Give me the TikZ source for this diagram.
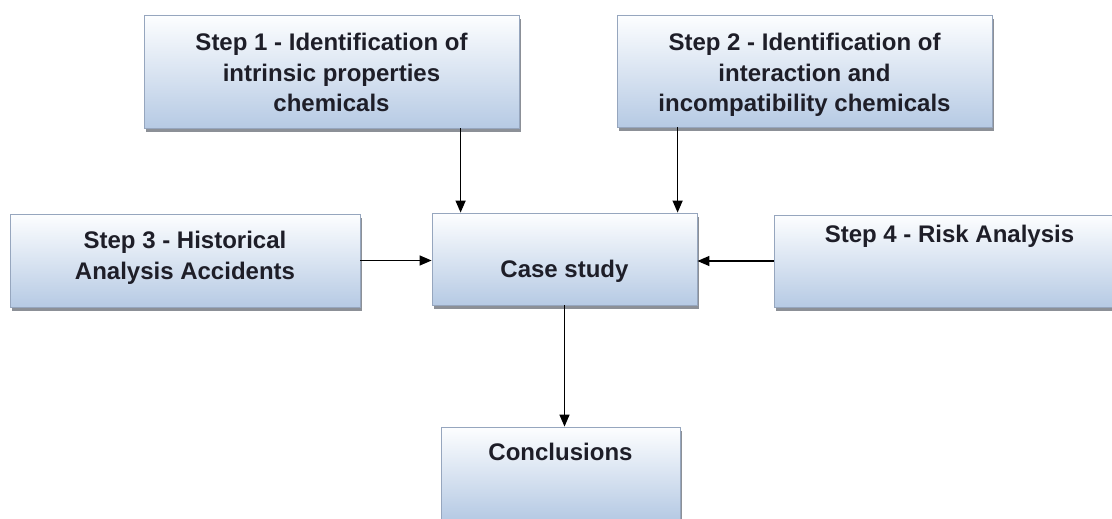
\documentclass[tikz,border=0pt]{standalone}
\usepackage{fontspec}
\setmainfont{Liberation Sans}
\usetikzlibrary{shadows,arrows.meta}
\definecolor{boxtop}{RGB}{253,254,255}
\definecolor{boxmid}{RGB}{226,234,244}
\definecolor{boxbot}{RGB}{182,202,228}
\definecolor{boxline}{RGB}{150,166,190}
\definecolor{shadowgray}{RGB}{128,132,140}
\definecolor{txt}{RGB}{30,30,40}
\newcommand{\boxtxt}[4]{\parbox[c][#2pt][t]{#1pt}{\centering\rule{0pt}{#3pt}#4}}
\tikzset{
  stepbox/.style={draw=boxline, line width=0.8pt, inner sep=0pt, text=txt,
    top color=boxtop, middle color=boxmid, bottom color=boxbot,
    font=\fontsize{24}{31}\selectfont\bfseries,
    drop shadow={shadow xshift=2pt, shadow yshift=-4pt, fill=shadowgray, opacity=0.9}},
  arr/.style={draw=black, line width=1.3pt, -{Triangle[length=12pt,width=10pt]}}
}
\begin{document}
\begin{tikzpicture}[x=1pt,y=-1pt]
\useasboundingbox (0,0) rectangle (1112,519);
\fill[white] (0,0) rectangle (1112,519);
\clip (0,0) rectangle (1112,519);
\node[stepbox] (s1) at (331.5,71.5) {\boxtxt{375}{113}{35}{Step 1 - Identification of\\intrinsic properties\\chemicals}};
\node[stepbox] (s2) at (804.5,71) {\boxtxt{375}{112}{35}{Step 2 - Identification of\\interaction and\\incompatibility chemicals}};
\node[stepbox] (s3) at (185,260.5) {\boxtxt{350}{93}{34}{Step 3 - Historical\\Analysis Accidents}};
\node[stepbox] (cs) at (564.5,259) {\boxtxt{265}{92}{64}{Case study}};
\node[stepbox] (s4) at (949.5,261) {\boxtxt{351}{92}{27}{Step 4 - Risk Analysis}};
\node[stepbox] (cc) at (560.5,473) {\boxtxt{239}{92}{33}{Conclusions}};
\draw[arr] ([xshift=29pt]cs.north west |- s1.south) -- ([xshift=29pt]cs.north west);
\draw[arr] ([xshift=61pt]s2.south west) -- ([xshift=61pt]s2.south west |- cs.north);
\draw[arr] (s3.east) -- (s3.east -| cs.west);
\draw[arr] (s4.west) -- (s4.west -| cs.east);
\draw[arr] (cs.south) -- (cs.south |- cc.north);
\end{tikzpicture}
\end{document}
